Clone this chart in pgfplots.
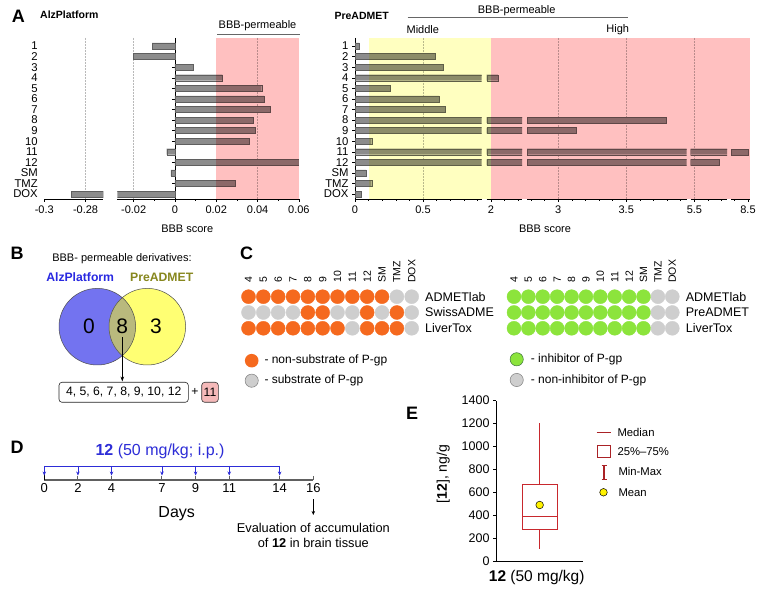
\documentclass[border=0pt]{standalone}
\usepackage{pgfplots}
\pgfplotsset{compat=1.18}
\usepackage{pgfplotstable}
\usetikzlibrary{arrows.meta}
\usepackage{fontspec}
\setmainfont{Liberation Sans}
\definecolor{pinkbg}{RGB}{255,192,192}
\definecolor{yelbg}{RGB}{255,255,192}
\definecolor{barg}{RGB}{140,140,140}
\definecolor{bard}{RGB}{95,95,95}
\definecolor{orng}{RGB}{245,105,30}
\definecolor{grn}{RGB}{140,228,60}
\definecolor{lgr}{RGB}{206,206,206}
\definecolor{vblue}{RGB}{115,115,240}
\definecolor{vyel}{RGB}{255,255,115}
\definecolor{volive}{RGB}{185,185,125}
\definecolor{tblue}{RGB}{40,40,225}
\definecolor{tolive}{RGB}{135,135,30}
\definecolor{boxred}{RGB}{200,40,45}
\definecolor{dblue}{RGB}{45,45,215}
\definecolor{pinkbox}{RGB}{245,185,185}
\newcommand\fs[1]{\fontsize{#1}{#1}\selectfont}

\pgfplotstableread{
r v
1 -0.011
2 -0.020
3 0.009
4 0.023
5 0.042
6 0.043
7 0.046
8 0.038
9 0.039
10 0.036
11 -0.004
12 0.0605
13 -0.002
14 0.029
15 -0.287
}\alz
\pgfplotstableread{
r v
1 0.032
2 0.593
3 0.649
4 2.05
5 0.26
6 0.618
7 0.662
8 3.796
9 3.134
10 0.123
11 8.498
12 5.682
13 0.081
14 0.123
15 0.044
}\pre
\pgfplotstableread{
x y c
0 2 o
1 2 o
2 2 o
3 2 o
4 2 o
5 2 o
6 2 o
7 2 o
8 2 o
9 2 o
10 2 g
11 2 g
0 1 g
1 1 g
2 1 g
3 1 g
4 1 o
5 1 o
6 1 g
7 1 g
8 1 o
9 1 g
10 1 o
11 1 g
0 0 o
1 0 o
2 0 o
3 0 o
4 0 o
5 0 o
6 0 o
7 0 g
8 0 o
9 0 o
10 0 o
11 0 g
}\cleft
\pgfplotstableread{
x y c
0 2 e
1 2 e
2 2 e
3 2 e
4 2 e
5 2 e
6 2 e
7 2 e
8 2 e
9 2 e
10 2 g
11 2 g
0 1 e
1 1 e
2 1 e
3 1 e
4 1 e
5 1 e
6 1 e
7 1 e
8 1 e
9 1 e
10 1 g
11 1 g
0 0 e
1 0 e
2 0 e
3 0 e
4 0 e
5 0 e
6 0 e
7 0 e
8 0 e
9 0 e
10 0 g
11 0 g
}\cright

\tikzset{gridl/.style={gray!55, line width=0.5pt, densely dotted}}
\pgfplotsset{
 bbb/.style={scale only axis, anchor=south west, height=161pt, ymin=0.243, ymax=15.47, y dir=reverse,
   enlargelimits=false, scaled x ticks=false, /pgf/number format/assume math mode=true,
   ticklabel style={font=\fs{11}}, xbar, bar width=6pt, ytick={1,...,15},
   major tick length=3pt, minor tick length=2pt, tick align=outside,
   tick style={line width=0.4pt, black}, axis line style={line width=0.5pt},
   hide obscured x ticks=false, hide obscured y ticks=false},
 bars/.style={fill=barg, draw=bard, line width=0.3pt},
 seg/.style={bbb, axis x line*=bottom, axis y line*=none, ytick=\empty, y axis line style={draw=none}},
 dots/.style={scale only axis, anchor=south west, height=31.6pt, xmin=0, xmax=11, ymin=0, ymax=2,
   enlargelimits=false, clip=false, axis line style={draw=none}, tick style={draw=none},
   xtick={0,...,11}, xticklabels={4,5,6,7,8,9,10,11,12,SM,TMZ,DOX}, xticklabel pos=upper,
   xticklabel style={font=\fs{10.5}, yshift=10.5pt, rotate=90, anchor=west},
   ytick={0,1,2}, yticklabel pos=upper, yticklabel style={font=\fs{12.5}, anchor=west, xshift=10pt}},
 dotplot/.style={scatter, only marks, mark=*, mark size=7pt, scatter src=explicit symbolic,
   scatter/classes={o={mark=*, draw=orng, fill=orng}, g={mark=*, draw=lgr, fill=lgr}, e={mark=*, draw=grn, fill=grn}}},
}

\begin{document}
\begin{tikzpicture}[x=1pt,y=1pt, t/.style={inner sep=0pt}]
\useasboundingbox (0,0) rectangle (763,593);
\fill[white] (0,0) rectangle (763,593);
\coordinate (pA1) at (44.3,394);
\coordinate (pA2) at (117.3,394);
\coordinate (pS1) at (355,394);
\coordinate (pS2) at (486.7,394);
\coordinate (pS3) at (527,394);
\coordinate (pS4) at (690.5,394);
\coordinate (pS5) at (731,394);
\coordinate (pC1) at (248.5,264.7);
\coordinate (pC2) at (514,264.7);
\coordinate (pD) at (44.3,113);
\coordinate (pE) at (496,31.3);

% ---------------- Panel A ----------------
\node[t, font=\bfseries\fs{18}] at (18.3,593-16) {A};
\node[t, font=\bfseries\fs{10.5}, anchor=west] at (40,593-15) {AlzPlatform};
\node[t, font=\fs{11}] at (257.5,593-25.7) {BBB-permeable};
\draw[gray!80!black, line width=0.6pt] (217,593-34) -- (300,593-34);

\begin{axis}[bbb, at={(pA1)}, width=59pt, xmin=-0.3, xmax=-0.2714,
  axis lines*=left, y axis line style={draw=none}, ytick style={draw=none},
  yticklabels={1,2,3,4,5,6,7,8,9,10,11,12,SM,TMZ,DOX}, yticklabel style={font=\fs{11.3}},
  xtick={-0.3,-0.28}, xticklabels={-0.3,-0.28}]
\draw[gridl] (axis cs:-0.28,0.243) -- (axis cs:-0.28,15.47);
\addplot[bars, restrict x to domain=-1:-0.2714] table[x=v,y=r] {\alz};
\end{axis}

\begin{axis}[bbb, at={(pA2)}, width=181.6pt, xmin=-0.0279, xmax=0.06,
  axis x line*=bottom, axis y line*=middle, yticklabels={},
  xtick={-0.02,0,0.02,0.04,0.06}, xticklabels={-0.02,0,0.02,0.04,0.06},
  minor xtick={-0.01,0.01,0.03,0.05}]
\draw[gridl] (axis cs:-0.02,0.243) -- (axis cs:-0.02,15.47);
\draw[gridl] (axis cs:0.04,0.243) -- (axis cs:0.04,15.47);
\addplot[bars] table[x=v,y=r] {\alz};
\end{axis}
\node[t, font=\fs{11}] at (187.3,593-228.3) {BBB score};

\node[t, font=\bfseries\fs{10.5}, anchor=west] at (334.3,593-16) {PreADMET};
\node[t, font=\fs{11}] at (516.7,593-11) {BBB-permeable};
\draw[gray!80!black, line width=0.6pt] (407.7,593-17.7) -- (628.3,593-17.7);
\node[t, font=\fs{11}] at (422.8,593-30) {Middle};
\node[t, font=\fs{11}] at (617.8,593-30) {High};

\begin{axis}[bbb, at={(pS1)}, width=126.7pt, xmin=0, xmax=0.932,
  axis lines*=left, yticklabels={1,2,3,4,5,6,7,8,9,10,11,12,SM,TMZ,DOX}, yticklabel style={font=\fs{11.3}},
  xtick={0,0.5}, xticklabels={0,0.5}, minor xtick={0.1,0.2,0.3,0.4,0.6,0.7,0.8,0.9}]
\draw[gridl] (axis cs:0.5,0.243) -- (axis cs:0.5,15.47);
\addplot[bars] table[x=v,y=r] {\pre};
\end{axis}
\begin{axis}[seg, at={(pS2)}, width=35.3pt, xmin=1.968, xmax=2.228,
  xtick={2}, xticklabels={2}, minor xtick={2.1,2.2}]
\addplot[bars, restrict x to domain=1.968:100] table[x=v,y=r] {\pre};
\end{axis}
\begin{axis}[seg, at={(pS3)}, width=159.5pt, xmin=2.770, xmax=3.943,
  xtick={3,3.5}, xticklabels={3,3.5}, minor xtick={2.8,2.9,3.1,3.2,3.3,3.4,3.6,3.7,3.8,3.9}]
\draw[gridl] (axis cs:3,0.243) -- (axis cs:3,15.47);
\draw[gridl] (axis cs:3.5,0.243) -- (axis cs:3.5,15.47);
\addplot[bars, restrict x to domain=2.77:100] table[x=v,y=r] {\pre};
\end{axis}
\begin{axis}[seg, at={(pS4)}, width=36.5pt, xmin=5.471, xmax=5.739,
  xtick={5.5}, xticklabels={5.5}, minor xtick={5.6,5.7}]
\draw[gridl] (axis cs:5.5,0.243) -- (axis cs:5.5,15.47);
\addplot[bars, restrict x to domain=5.471:100] table[x=v,y=r] {\pre};
\end{axis}
\begin{axis}[seg, at={(pS5)}, width=18.5pt, xmin=8.375, xmax=8.511,
  xtick={8.5}, xticklabels={8.5}, minor xtick={8.4}]
\addplot[bars, restrict x to domain=8.375:100] table[x=v,y=r] {\pre};
\end{axis}
\node[t, font=\fs{11}] at (545,593-228.3) {BBB score};

\begin{scope}[blend mode=multiply]
\fill[pinkbg] (216.3,394) rectangle (299,555);
\fill[yelbg] (368.6,394) rectangle (490.5,555);
\fill[pinkbg] (490.5,394) rectangle (749.5,555);
\end{scope}

% ---------------- Panel B ----------------
\node[t, font=\bfseries\fs{18}] at (17,593-253) {B};
\node[t, font=\fs{11}] at (122,593-258.3) {BBB- permeable derivatives:};
\node[t, font=\bfseries\fs{12.2}, text=tblue] at (80.2,593-277.3) {AlzPlatform};
\node[t, font=\bfseries\fs{12.2}, text=tolive] at (161.7,593-277.3) {PreADMET};
\fill[vblue] (97.3,593-326.7) circle (38.3);
\fill[vyel] (147.3,593-326.7) circle (38.3);
\begin{scope}
\clip (97.3,593-326.7) circle (38.3);
\fill[volive] (147.3,593-326.7) circle (38.3);
\end{scope}
\draw[gray!60!black, line width=0.5pt] (97.3,593-326.7) circle (38.3);
\draw[gray!60!black, line width=0.5pt] (147.3,593-326.7) circle (38.3);
\node[t, font=\fs{21}] at (89,593-326.7) {0};
\node[t, font=\fs{21}] at (122.3,593-326.7) {8};
\node[t, font=\fs{21}] at (156,593-326.7) {3};
\draw[line width=0.6pt, -{Stealth[length=5pt,width=3.5pt]}] (122.3,593-337) -- (122.3,593-381.5);
\draw[gray!30!black, line width=0.6pt, rounded corners=3pt] (59,593-382.3) rectangle (188.3,593-402.3);
\node[t, font=\fs{12.2}] at (123.7,593-392.3) {4, 5, 6, 7, 8, 9, 10, 12};
\node[t, font=\fs{12.2}] at (195,593-392.3) {+};
\draw[gray!40!black, fill=pinkbox, line width=0.6pt, rounded corners=3pt] (201.7,593-382.3) rectangle (218.3,593-402.3);
\node[t, font=\fs{12.2}] at (210,593-392.3) {11};

% ---------------- Panel C ----------------
\node[t, font=\bfseries\fs{18}] at (246.5,593-253.5) {C};
\begin{axis}[dots, at={(pC1)}, width=163.2pt, yticklabels={LiverTox,SwissADME,ADMETlab}]
\addplot[dotplot] table[x=x,y=y,meta=c] {\cleft};
\end{axis}
\begin{axis}[dots, at={(pC2)}, width=158.3pt, yticklabels={LiverTox,PreADMET,ADMETlab}]
\addplot[dotplot] table[x=x,y=y,meta=c] {\cright};
\end{axis}
\fill[orng] (251.7,593-360.7) circle (6.8);
\draw[gray, fill=lgr, line width=0.5pt] (251.7,593-380.7) circle (6.6);
\node[t, font=\fs{12}, anchor=west] at (264.3,593-360.7) {- non-substrate of P-gp};
\node[t, font=\fs{12}, anchor=west] at (264.3,593-380.7) {- substrate of P-gp};
\draw[gray!70!green!70!black, fill=grn, line width=0.5pt] (516.7,593-359.3) circle (6.6);
\draw[gray, fill=lgr, line width=0.5pt] (516.7,593-380) circle (6.6);
\node[t, font=\fs{12}, anchor=west] at (530.7,593-359.3) {- inhibitor of P-gp};
\node[t, font=\fs{12}, anchor=west] at (530.7,593-380) {- non-inhibitor of P-gp};

% ---------------- Panel D ----------------
\node[t, font=\bfseries\fs{18}] at (17,593-447) {D};
\node[t, font=\fs{16}, text=dblue] at (160,593-451) {\textbf{12} (50 mg/kg; i.p.)};
\begin{axis}[scale only axis, anchor=south west, at={(pD)}, width=269pt, height=14pt,
  xmin=0, xmax=16, ymin=0, ymax=1, enlargelimits=false,
  axis x line*=bottom, axis y line*=none, ytick=\empty,
  xtick={0,2,4,7,9,11,14,16}, x axis line style={draw=gray!75!black, line width=1.3pt},
  xtick style={draw=gray!75!black, line width=1pt}, xtick align=inside, major tick length=4pt,
  ticklabel style={font=\fs{13}},
  /pgf/number format/assume math mode=true, clip=false]
\addplot[dblue, line width=0.8pt] coordinates {(0,1) (14,1)};
\addplot[dblue, line width=0.6pt, quiver={u=0, v=-0.68}, -{Stealth[length=4pt,width=3.5pt]}]
  coordinates {(0,1) (2,1) (4,1) (7,1) (9,1) (11,1) (14,1)};
\addplot[black, line width=0.6pt, quiver={u=0, v=-1.12}, -{Stealth[length=4pt,width=3.5pt]}]
  coordinates {(16,-1.38)};
\end{axis}
\node[t, font=\fs{16}] at (176.7,593-513.3) {Days};
\node[t, font=\fs{12.8}] at (313.3,593-527.7) {Evaluation of accumulation};
\node[t, font=\fs{12.8}] at (313.3,593-542.7) {of \textbf{12} in brain tissue};

% ---------------- Panel E ----------------
\node[t, font=\bfseries\fs{18}] at (412,593-413) {E};
\begin{axis}[scale only axis, anchor=south west, at={(pE)}, width=87.3pt, height=161pt,
  xmin=0, xmax=2, ymin=0, ymax=1400, enlargelimits=false, axis lines*=left,
  xtick=\empty, ytick={0,200,...,1400}, tick align=outside, major tick length=3pt,
  tick style={black, line width=0.5pt}, axis line style={line width=0.6pt},
  ticklabel style={font=\fs{12.5}}, /pgf/number format/assume math mode=true,
  /pgf/number format/1000 sep={}, clip=false]
\addplot[boxred, line width=0.7pt] coordinates {(0.605,282) (1.395,282) (1.395,673) (0.605,673) (0.605,282)};
\addplot[boxred, line width=0.7pt] coordinates {(0.605,392) (1.395,392)};
\addplot[boxred, line width=0.7pt] coordinates {(1,673) (1,1204)};
\addplot[boxred, line width=0.7pt] coordinates {(1,282) (1,110)};
\addplot[only marks, mark=*, mark size=3.8pt, mark options={fill=yellow, draw=black, line width=0.5pt}]
  coordinates {(1,493)};
\end{axis}
\node[t, font=\fs{14}, rotate=90] at (443.3,593-474) {[\textbf{12}], ng/g};
\node[t, font=\fs{15.5}] at (536.7,593-577.7) {\textbf{12} (50 mg/kg)};
\draw[boxred!85!black, line width=1.3pt] (596.7,593-432.7) -- (610.7,593-432.7);
\draw[boxred!85!black, line width=1pt] (597.2,593-445.5) rectangle (610.2,593-458);
\draw[boxred!85!black, line width=1.2pt] (604,593-466) -- (604,593-479.3);
\draw[boxred!85!black, line width=1pt] (601.5,593-466) -- (606.5,593-466);
\draw[boxred!85!black, line width=1pt] (601.5,593-479.3) -- (606.5,593-479.3);
\draw[black, fill=yellow, line width=0.5pt] (603.5,593-492.3) circle (3.8);
\node[t, font=\fs{11.3}, anchor=west] at (617.3,593-432.7) {Median};
\node[t, font=\fs{11.3}, anchor=west] at (617.3,593-451.7) {25\%--75\%};
\node[t, font=\fs{11.3}, anchor=west] at (618.3,593-471) {Min-Max};
\node[t, font=\fs{11.3}, anchor=west] at (618.3,593-492.3) {Mean};
\end{tikzpicture}
\end{document}
